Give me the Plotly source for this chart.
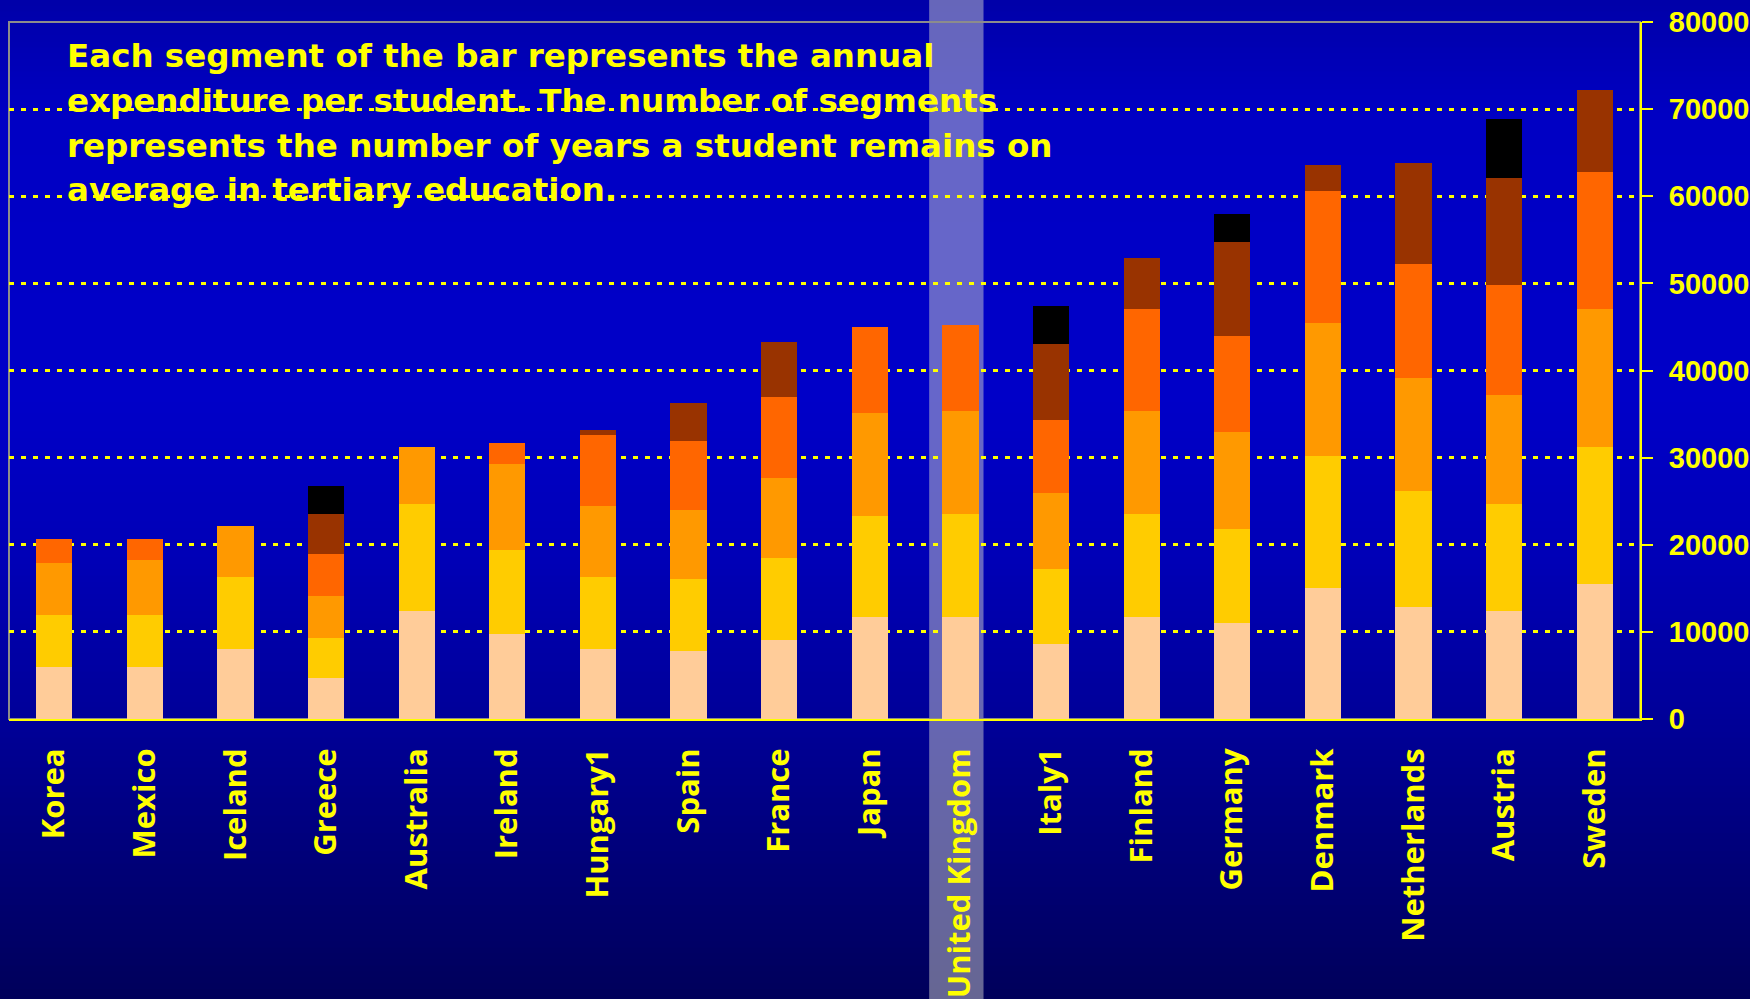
import plotly.graph_objects as go

# Tertiary education: annual expenditure per student (USD PPP), one segment per year of study
countries = ["Korea", "Mexico", "Iceland", "Greece", "Australia", "Ireland", "Hungary1",
             "Spain", "France", "Japan", "United Kingdom", "Italy1", "Finland", "Germany",
             "Denmark", "Netherlands", "Austria", "Sweden"]

year1 = [5990, 5990, 8060, 4730, 12420, 9780, 8060, 7830, 9090, 11730, 11730, 8630, 11730, 11040, 15060, 12880, 12420, 15520]
year2 = [5970, 5970, 8260, 4590, 12280, 9640, 8260, 8260, 9410, 11590, 11820, 8610, 11820, 10790, 15150, 13320, 12280, 15720]
year3 = [5970, 6310, 5850, 4820, 6540, 9870, 8150, 7920, 9180, 11820, 11820, 8720, 11820, 11130, 15270, 12970, 12510, 15840]
year4 = [2750, 2410, 0, 4820, 0, 2410, 8150, 7920, 9300, 9870, 9870, 8380, 11710, 11020, 15150, 13080, 12630, 15730]
year5 = [0, 0, 0, 4590, 0, 0, 570, 4360, 6310, 0, 0, 8720, 5850, 10790, 2980, 11590, 12280, 9410]
year6 = [0, 0, 0, 3210, 0, 0, 0, 0, 0, 0, 0, 4360, 0, 3210, 0, 0, 6730, 0]

segments = [year1, year2, year3, year4, year5, year6]
segment_names = ["Year 1", "Year 2", "Year 3", "Year 4", "Year 5", "Year 6"]
segment_colors = ["#FFCC99", "#FFCC00", "#FF9900", "#FF6600", "#993300", "#000000"]

y_ticks = [0, 10000, 20000, 30000, 40000, 50000, 60000, 70000, 80000]

note_lines = [
    "Each segment of the bar represents the annual",
    "expenditure per student. The number of segments",
    "represents the number of years a student remains on",
    "average in tertiary education.",
]

highlight = "United Kingdom"

W, H = 1750, 999
ML, MR, MT, MB = 9, 110, 22, 280
PW, PH = W - ML - MR, H - MT - MB
YELLOW = "#FFFF00"


def px_x(px):
    return (px - ML) / PW


def px_y(py):
    return (H - MB - py) / PH


fig = go.Figure()
for vals, name, col in zip(segments, segment_names, segment_colors):
    fig.add_trace(go.Bar(
        x=countries, y=vals, name=name,
        marker=dict(color=col, line=dict(width=0)),
        hoverinfo="x+y+name",
    ))

shapes = []
# vertical background gradient
stops = [(0, 168), (120, 196), (400, 200), (560, 182), (720, 152), (860, 120), (999, 90)]


def blue_at(py):
    for (a, ca), (b, cb) in zip(stops[:-1], stops[1:]):
        if a <= py <= b:
            t = (py - a) / (b - a)
            return int(round(ca + (cb - ca) * t))
    return stops[-1][1]


step = 6
for top in range(0, H, step):
    bot = min(top + step, H)
    c = blue_at((top + bot) / 2)
    shapes.append(dict(type="rect", xref="paper", yref="paper",
                       x0=px_x(-2), x1=px_x(W + 2), y0=px_y(bot + 0.5), y1=px_y(top - 0.5),
                       fillcolor=f"rgb(0,0,{c})", line=dict(width=0), layer="below"))

# highlighted column behind the United Kingdom bar
idx = countries.index(highlight)
cx = (idx + 0.5) / len(countries)
half = 0.3 / len(countries)
shapes.append(dict(type="rect", xref="paper", yref="paper",
                   x0=cx - half - 0.0025, x1=cx + half - 0.0025, y0=px_y(H + 2), y1=px_y(-2),
                   fillcolor="rgba(204,204,204,0.5)", line=dict(width=0), layer="below"))

# plot-area frame
shapes.append(dict(type="rect", xref="paper", yref="paper", x0=0, x1=1, y0=0, y1=1,
                   line=dict(color="#8C8C8C", width=2), fillcolor="rgba(0,0,0,0)", layer="below"))

annotations = []
line_centres = [56.5, 101, 145.5, 189.5]
for txt, yc in zip(note_lines, line_centres):
    annotations.append(dict(
        xref="paper", yref="paper", x=px_x(65), y=px_y(yc),
        xanchor="left", yanchor="middle", showarrow=False,
        text=f"<b>{txt}</b>",
        font=dict(family="DejaVu Sans, sans-serif", size=32.5, color=YELLOW),
    ))

fig.update_layout(
    width=W, height=H,
    margin=dict(l=ML, r=MR, t=MT, b=MB, pad=0),
    paper_bgcolor="#000066",
    plot_bgcolor="rgba(0,0,0,0)",
    barmode="stack",
    bargap=0.6,
    showlegend=False,
    shapes=shapes,
    annotations=annotations,
    xaxis=dict(
        type="category",
        automargin=False,
        tickangle=-90,
        tickfont=dict(family="Open Sans, sans-serif", size=31, color=YELLOW, weight="bold"),
        showline=True, linecolor=YELLOW, linewidth=2,
        ticks="", showgrid=False, zeroline=False,
        ticklabelstandoff=15,
    ),
    yaxis=dict(
        side="right",
        automargin=False,
        range=[0, 80000],
        tickvals=y_ticks,
        tickformat="d",
        tickfont=dict(family="Liberation Sans, Arial, sans-serif", size=29, color=YELLOW, weight="bold"),
        ticks="outside", ticklen=11, tickwidth=2, tickcolor=YELLOW,
        showline=True, linecolor=YELLOW, linewidth=2,
        showgrid=True, gridcolor=YELLOW, gridwidth=3, griddash="5px,7px",
        zeroline=False,
        ticklabelstandoff=10,
    ),
)

fig.write_html("out.html")
